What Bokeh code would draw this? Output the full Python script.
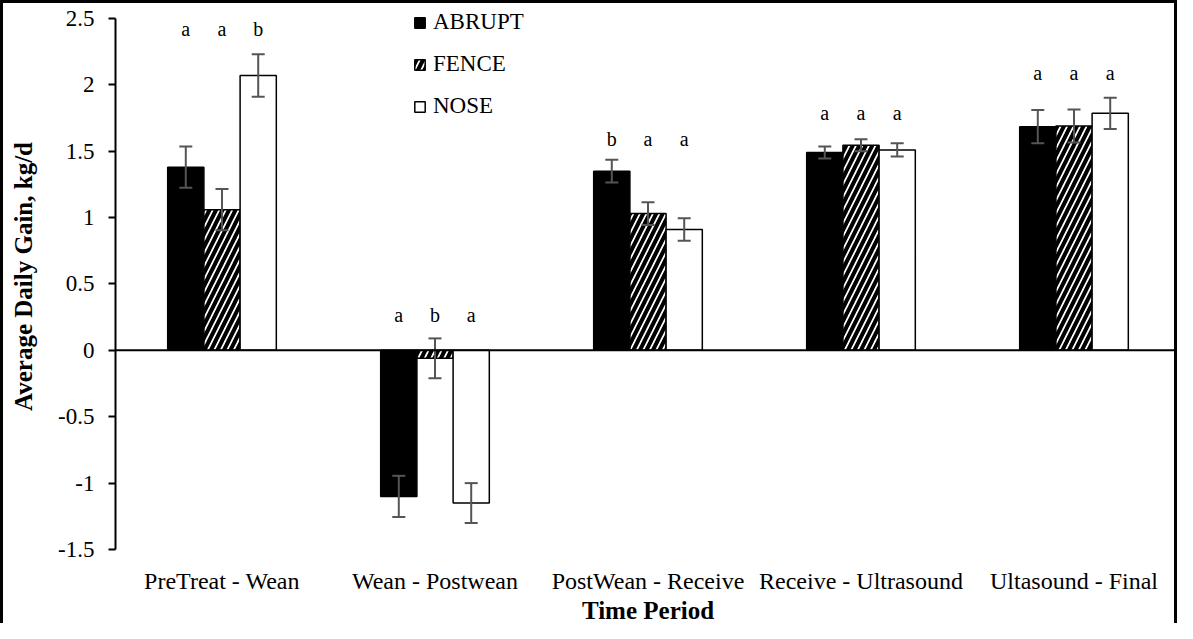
from bokeh.plotting import figure
from bokeh.models import (ColumnDataSource, FactorRange, Whisker, TeeHead, Span, Range1d,
                          Legend, LegendItem, FixedTicker, CustomJSTickFormatter)
from bokeh.transform import dodge
from bokeh.core.properties import value
from bokeh.embed import file_html
from bokeh.resources import INLINE

periods = ["PreTreat - Wean", "Wean - Postwean", "PostWean - Receive",
           "Receive - Ultrasound", "Ultasound - Final"]
abrupt = [1.38, -1.10, 1.35, 1.49, 1.685]
fence = [1.06, -0.06, 1.03, 1.545, 1.69]
nose = [2.07, -1.15, 0.91, 1.51, 1.785]
abrupt_se = [0.155, 0.155, 0.085, 0.045, 0.125]
fence_se = [0.155, 0.15, 0.085, 0.045, 0.125]
nose_se = [0.16, 0.15, 0.085, 0.05, 0.118]
abrupt_letters = ["a", "a", "b", "a", "a"]
fence_letters = ["a", "b", "a", "a", "a"]
nose_letters = ["b", "a", "a", "a", "a"]
letter_y = [2.42, 0.27, 1.59, 1.79, 2.09]
y_ticks = [-1.5, -1.0, -0.5, 0.0, 0.5, 1.0, 1.5, 2.0, 2.5]

FONT = "Liberation Serif"
LEGEND_FONT = "'Liberation Serif', serif"

p = figure(x_range=FactorRange(factors=periods), y_range=Range1d(-1.5, 2.6126),
           width=1177, height=623, output_backend="svg", toolbar_location=None,
           min_border_left=112, min_border_right=0, min_border_top=0, min_border_bottom=72)
p.styles = {"border-left": "3px solid black", "border-top": "3px solid black",
            "border-right": "3px solid black", "box-sizing": "border-box"}
p.outline_line_color = None
p.xgrid.grid_line_color = None
p.ygrid.grid_line_color = None
p.background_fill_color = "white"
p.border_fill_color = "white"

series = [
    ("ABRUPT", abrupt, abrupt_se, abrupt_letters, -0.17,
     dict(fill_color="black", line_color="black")),
    ("FENCE", fence, fence_se, fence_letters, 0.0,
     dict(fill_color="white", line_color="black", hatch_pattern="right_diagonal_line",
          hatch_color="black", hatch_scale=13, hatch_weight=4)),
    ("NOSE", nose, nose_se, nose_letters, 0.17,
     dict(fill_color="white", line_color="black")),
]

items = []
for name, vals, se, lets, off, style in series:
    src = ColumnDataSource(dict(
        period=periods, val=vals,
        upper=[v + s for v, s in zip(vals, se)],
        lower=[v - s for v, s in zip(vals, se)],
        letter=lets, ly=letter_y))
    xs = dodge("period", off, range=p.x_range)
    r = p.vbar(x=xs, top="val", bottom=0, width=0.17, source=src, line_width=1.5, **style)
    items.append(LegendItem(label=name, renderers=[r]))
    w = Whisker(base=xs, upper="upper", lower="lower", source=src,
                line_color="#555555", line_width=2, level="annotation",
                upper_head=TeeHead(size=13, line_color="#555555", line_width=2),
                lower_head=TeeHead(size=13, line_color="#555555", line_width=2))
    p.add_layout(w)
    p.text(x=xs, y="ly", text="letter", source=src, text_font=value(FONT),
           text_font_size="20px", text_align="center", text_baseline="alphabetic",
           text_color="black")

p.add_layout(Span(location=0, dimension="width", line_color="black", line_width=2))

legend = Legend(items=items, location=(298, 430), orientation="vertical",
                glyph_width=13, glyph_height=13, label_height=26, spacing=16,
                label_standoff=7, padding=0, margin=0, border_line_color=None,
                background_fill_alpha=0, label_text_font=LEGEND_FONT,
                label_text_font_size="23px", label_text_color="black")
p.add_layout(legend)

# y axis
ya = p.yaxis[0]
ya.bounds = (-1.5, 2.5)
ya.ticker = FixedTicker(ticks=y_ticks)
ya.formatter = CustomJSTickFormatter(code="return tick.toString()")
ya.axis_line_color = "black"
ya.axis_line_width = 2
ya.major_tick_line_color = "black"
ya.major_tick_line_width = 2
ya.major_tick_out = 7
ya.major_tick_in = 0
ya.minor_tick_line_color = None
ya.major_label_text_font = FONT
ya.major_label_text_font_size = "23px"
ya.major_label_text_color = "black"
ya.major_label_standoff = 14
ya.axis_label = "Average Daily Gain, kg/d"
ya.axis_label_text_font = FONT
ya.axis_label_text_font_size = "25px"
ya.axis_label_text_font_style = "bold"
ya.axis_label_text_color = "black"
ya.axis_label_standoff = 18

# x axis
xa = p.xaxis[0]
xa.axis_line_color = None
xa.major_tick_line_color = None
xa.minor_tick_line_color = None
xa.major_label_text_font = FONT
xa.major_label_text_font_size = "24px"
xa.major_label_text_color = "black"
xa.major_label_standoff = 12
xa.axis_label = "Time Period"
xa.axis_label_text_font = FONT
xa.axis_label_text_font_size = "25px"
xa.axis_label_text_font_style = "bold"
xa.axis_label_text_color = "black"
xa.axis_label_standoff = 0

open("out.html", "w").write(file_html(p, INLINE))
